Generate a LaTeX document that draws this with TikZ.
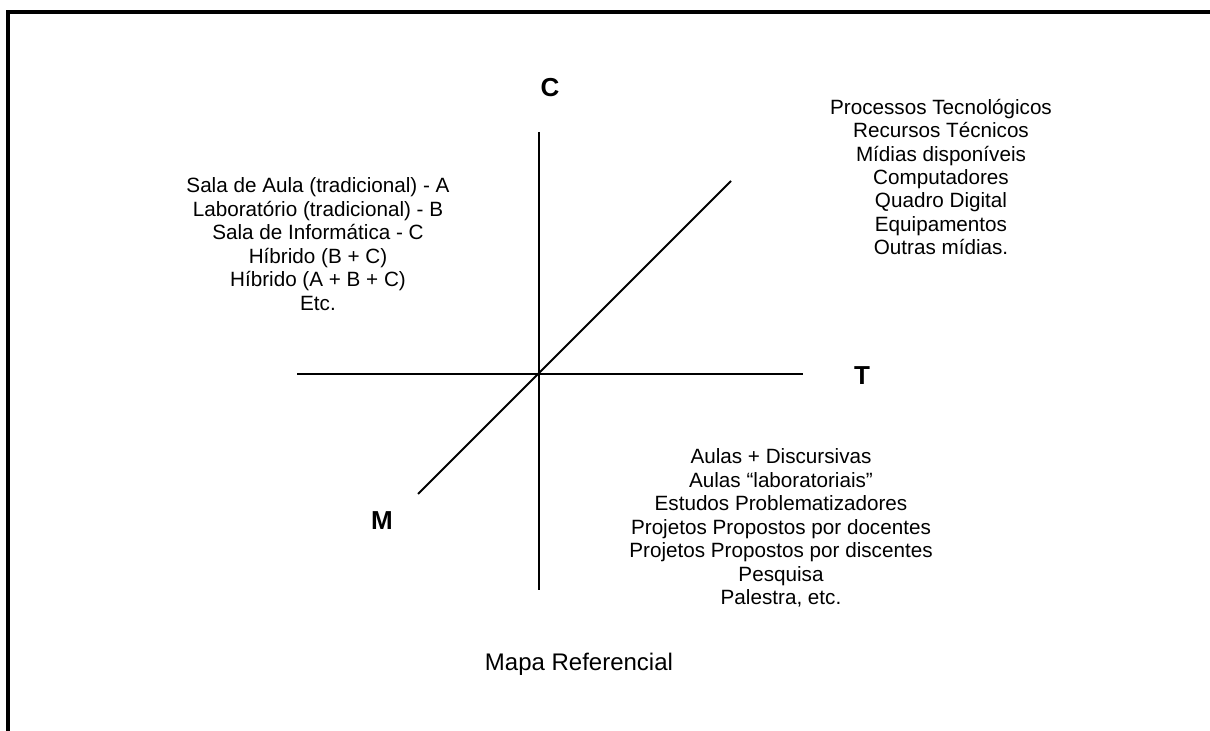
\documentclass[tikz,border=0pt]{standalone}
\usepackage{fontspec}
\setmainfont{Liberation Sans}
\usepackage{tikz}

\tikzset{
  lista/.style={align=center, inner sep=0pt, font=\fontsize{15.5}{17.6}\selectfont},
  eixo/.style={line width=1.5pt},
  letra/.style={inner sep=0pt, font=\fontsize{19.5}{22}\selectfont\bfseries},
  titulo/.style={inner sep=0pt, font=\fontsize{18}{21}\selectfont},
}

\begin{document}
\begin{tikzpicture}[x=0.75pt, y=-0.75pt]
  \useasboundingbox (0,0) rectangle (1210,731);

  % moldura
  \coordinate (mdir) at (1210,12);
  \coordinate (mcanto) at (8,12);
  \coordinate (mbaixo) at (8,731);
  \draw [line width=3pt] (mdir) -- (mcanto) -- (mbaixo);

  % tres eixos
  \coordinate (ctopo) at (539,132);
  \coordinate (cbase) at (539,590);
  \coordinate (tesq) at (297,374);
  \coordinate (tdir) at (803,374);
  \coordinate (mbx) at (418,494);
  \coordinate (mcima) at (731,181);
  \draw [eixo] (ctopo) -- (cbase);
  \draw [eixo] (tesq) -- (tdir);
  \draw [eixo] (mbx) -- (mcima);

  % letras dos eixos
  \node [letra] (C) at (550,88) {C};
  \node [letra] (T) at (862,376) {T};
  \node [letra] (M) at (382,521) {M};

  % listas
  \node [lista] (espaco) at (318,244) {Sala de Aula (tradicional) - A\\
    Laboratório (tradicional) - B\\
    Sala de Informática - C\\
    Híbrido (B + C)\\
    Híbrido (A + B + C)\\
    Etc.};
  \node [lista] (tecno) at (941,177) {Processos Tecnológicos\\
    Recursos Técnicos\\
    Mídias disponíveis\\
    Computadores\\
    Quadro Digital\\
    Equipamentos\\
    Outras mídias.};
  \node [lista] (metodo) at (781,528) {Aulas + Discursivas\\
    Aulas “laboratoriais”\\
    Estudos Problematizadores\\
    Projetos Propostos por docentes\\
    Projetos Propostos por discentes\\
    Pesquisa\\
    Palestra, etc.};

  % legenda
  \node [titulo] (mapa) at (579,664) {Mapa Referencial};
\end{tikzpicture}
\end{document}
